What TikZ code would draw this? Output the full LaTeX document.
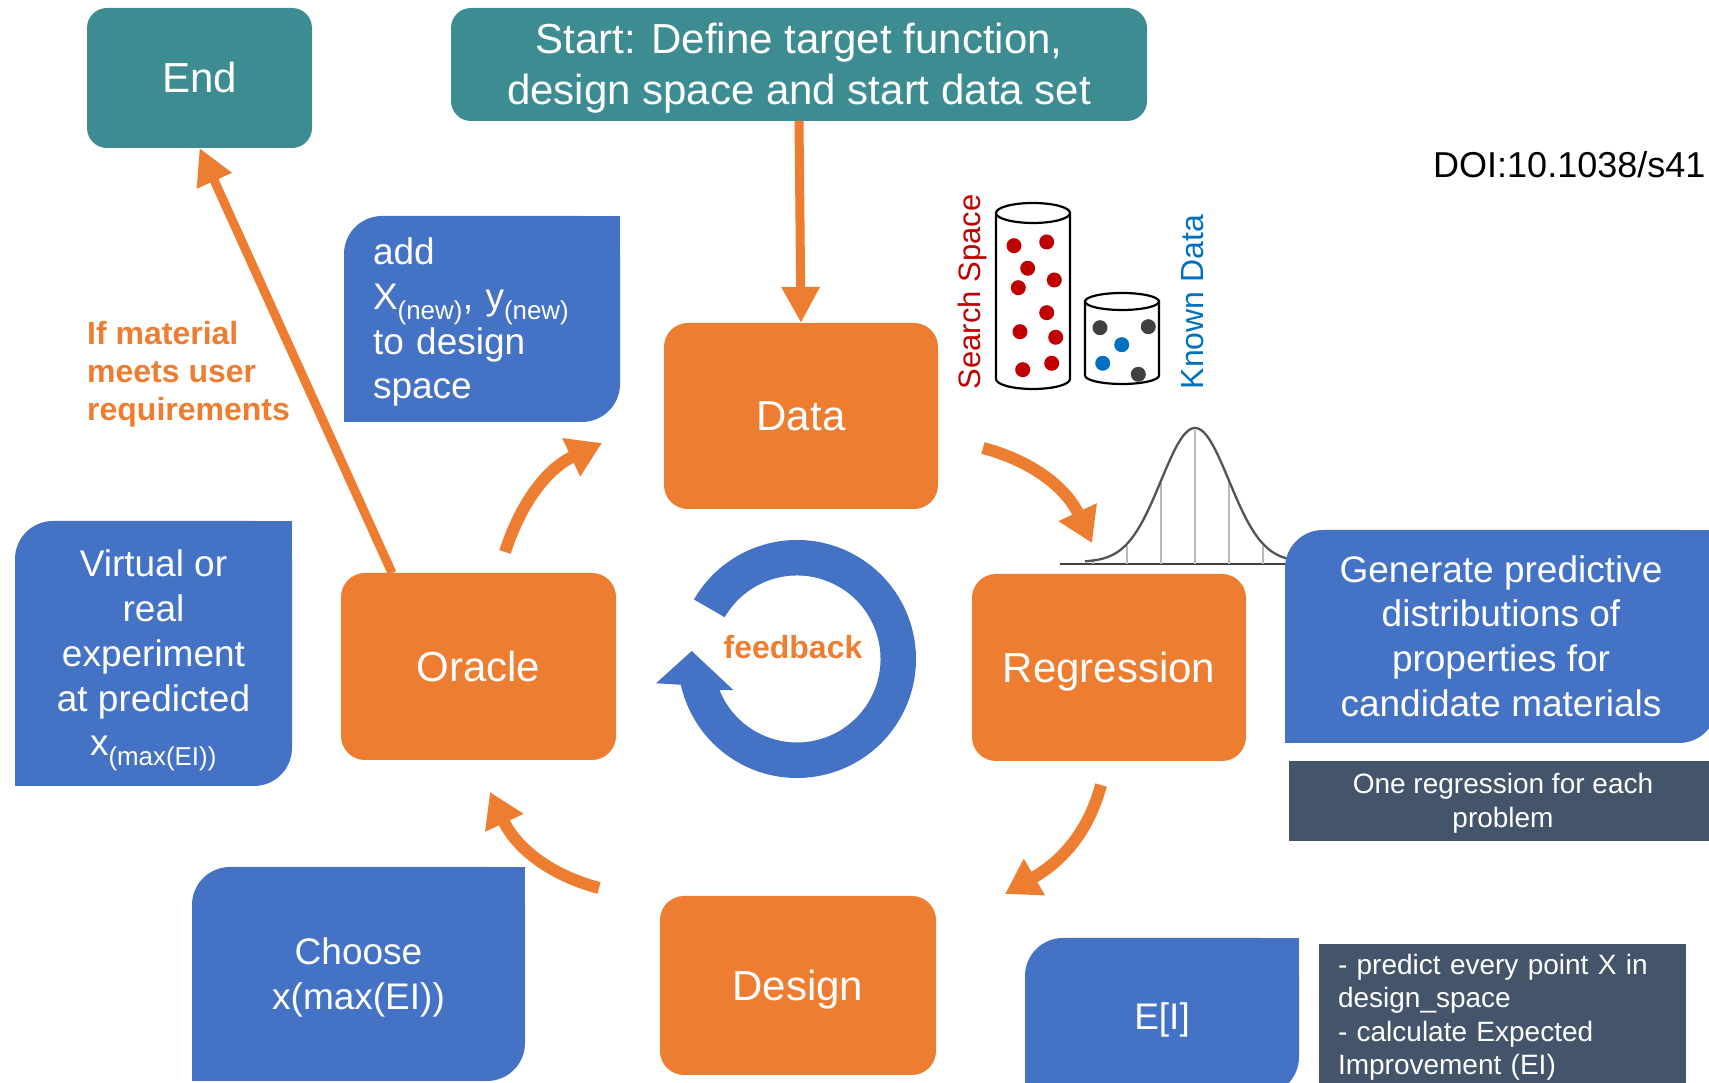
\documentclass[tikz,border=0pt]{standalone}
\usepackage{fontspec}
\setmainfont{Liberation Sans}
\usetikzlibrary{arrows.meta,backgrounds}

\definecolor{stageorange}{RGB}{237,125,49}
\definecolor{goalteal}{RGB}{60,140,145}
\definecolor{noteblue}{RGB}{68,114,196}
\definecolor{remarkslate}{RGB}{68,84,106}
\definecolor{searchred}{RGB}{192,0,0}
\definecolor{knownblue}{RGB}{0,112,192}
\definecolor{knowngray}{RGB}{64,64,64}

% full line height for the first and last line of a block
\newcommand{\linestrut}{\rule[-0.212em]{0pt}{1.117em}}

% blue note shape: rounded top left and bottom right, square elsewhere
\newcommand{\notefill}[1]{%
  \fill[noteblue, rounded corners=38pt] (#1.south west) rectangle (#1.north east);
  \fill[noteblue] (#1.north) rectangle (#1.east);
  \fill[noteblue] (#1.west) rectangle (#1.south);}

\begin{document}
\begin{tikzpicture}[x=1pt, y=1pt, >={Triangle[width=40pt,length=34pt]},
    stage/.style={fill=stageorange, text=white, rounded corners=24pt, align=center,
      inner sep=0pt, outer sep=0pt, font=\fontsize{42pt}{51pt}\selectfont},
    goal/.style={stage, fill=goalteal, rounded corners=20pt},
    single/.style={text height=38pt, text depth=8.9pt},
    note/.style={text=white, align=center, inner sep=0pt, outer sep=0pt,
      font=\fontsize{37pt}{44.7pt}\selectfont},
    remark/.style={fill=remarkslate, text=white, outer sep=0pt,
      font=\fontsize{28pt}{33.5pt}\selectfont},
    flow/.style={->, draw=stageorange, line width=12pt},
    lead/.style={-{Triangle[width=36pt,length=36pt]}, draw=stageorange, line width=9pt}]
  \useasboundingbox (0,0) rectangle (1709,1083);

  % Start and end
  \node[goal, single, minimum width=225pt, minimum height=140pt] (end) at (199.5,1005) {End};
  \node[goal, minimum width=696pt, minimum height=113pt] (start) at (799,1018.5)
    {\linestrut Start: Define target function,\\design space and start data set\linestrut};

  % Loop stages
  \node[stage, single, minimum width=274pt, minimum height=186pt] (data) at (801,667) {Data};
  \node[stage, single, minimum width=274pt, minimum height=187pt] (regression) at (1109,415.5) {Regression};
  \node[stage, single, minimum width=276pt, minimum height=179pt] (design) at (798,97.5) {Design};
  \node[stage, single, minimum width=275pt, minimum height=187pt] (oracle) at (478.5,416.5) {Oracle};

  % Notes
  \node[note, align=left, text width=218pt, minimum width=276pt, minimum height=206pt] (add) at (482,764)
    {\linestrut add\\X\textsubscript{(new)}, y\textsubscript{(new)}\\to design\\space\linestrut};
  \node[note, minimum width=277pt, minimum height=265pt] (virtual) at (153.5,429.5)
    {\linestrut Virtual or\\real\\experiment\\at predicted\\x\smash{\textsubscript{(max(EI))}}\linestrut};
  \node[note, minimum width=432pt, minimum height=213pt] (generate) at (1501,446.5)
    {\linestrut Generate predictive\\distributions of\\properties for\\candidate materials\linestrut};
  \node[note, minimum width=333pt, minimum height=214pt] (choose) at (358.5,109)
    {\linestrut Choose\\x(max(EI))\linestrut};
  \node[note, text height=33.5pt, text depth=7.8pt, minimum width=274pt, minimum height=157pt] (ei) at (1162,66.5) {E[I]};

  \node[remark, align=center, inner sep=0pt, minimum width=428pt, minimum height=80pt] (onereg) at (1503,282)
    {\linestrut One regression for each\\problem\linestrut};
  \node[remark, anchor=north west, align=left, text width=329pt, inner xsep=19pt, inner ysep=10pt] (predict) at (1319,139)
    {- predict every point X in\\design\_space\\- calculate Expected\\Improvement (EI)};

  % Labels
  \node[anchor=west, align=left, inner sep=0pt, text=stageorange,
    font=\fontsize{32pt}{38pt}\selectfont\bfseries] (cond) at (87,709) {If material\\meets user\\requirements};
  \node[inner sep=0pt, text=stageorange, font=\fontsize{32pt}{38pt}\selectfont\bfseries] (feedback) at (793,436) {feedback};
  \node[anchor=west, inner sep=0pt, font=\fontsize{36pt}{36pt}\selectfont] (doi) at (1433,918) {DOI:10.1038/s41};
  \node[rotate=90, inner sep=0pt, text=searchred, font=\fontsize{31pt}{31pt}\selectfont] (search) at (972,791) {Search Space};
  \node[rotate=90, inner sep=0pt, text=knownblue, font=\fontsize{32pt}{32pt}\selectfont] (known) at (1193,781) {Known Data};

  \begin{scope}[on background layer]
    % Predictive distribution
    \draw[knowngray, line width=2pt] (1060,519) -- (1292,519);
    \foreach \k in {-3,-2,-1,0,1,2}
      \draw[gray!55, line width=1.3pt] ({1195+34*\k},519) -- ({1195+34*\k},{519+max(134*exp(-0.5*(\k)*(\k)),5)});
    \draw[knowngray!90, line width=2.3pt, domain=1085:1292, samples=90, variable=\x]
      plot ({\x},{521+134*exp(-0.5*((\x-1195)/34)^2)});
    % Note boxes
    \foreach \n in {add,virtual,generate,choose,ei} {\notefill{\n}}
  \end{scope}

  % Search space and known data
  \draw[line width=2.2pt, fill=white] (996,870) -- (996,704) arc[start angle=180, end angle=360, x radius=37, y radius=10] -- (1070,870);
  \draw[line width=2.2pt, fill=white] (1033,870) ellipse[x radius=37, y radius=10];
  \draw[line width=2.2pt, fill=white] (1085,781.5) -- (1085,707.5) arc[start angle=180, end angle=360, x radius=37, y radius=8.5] -- (1159,781.5);
  \draw[line width=2.2pt, fill=white] (1122,781.5) ellipse[x radius=37, y radius=8.5];
  \foreach \x/\y in {1014/837.3, 1046.7/841, 1027.7/814.7, 1018.3/795.3, 1054.3/803,
      1046.7/770.3, 1020/751.3, 1055.7/745.7, 1022.7/713.3, 1051.7/719.7}
    \fill[searchred] (\x,\y) circle[radius=7.5];
  \foreach \x/\y in {1100/755.3, 1148.3/756.3, 1138.3/708.7}
    \fill[knowngray] (\x,\y) circle[radius=7.5];
  \foreach \x/\y in {1121.7/738.3, 1102.7/719.7}
    \fill[knownblue] (\x,\y) circle[radius=7.5];

  % Feedback ring
  \begin{scope}[shift={(797,424)}]
    \fill[noteblue] (150:119) arc[start angle=150, end angle=-167.5, radius=119]
      -- (-141,-24.3) -- (-105.3,8) -- (-63.7,-31)
      -- (-158.1:83.5) arc[start angle=-158.1, end angle=150, radius=83.5] -- cycle;
  \end{scope}

  % Arrows
  \draw[lead] (start.south) -- (data.north);
  \draw[lead] ([xshift=51pt]oracle.north west) -- (end.south);
  \draw[flow] ([xshift=45pt,yshift=-32pt]data.east) to[out=-15,in=115] ([xshift=-17pt,yshift=31pt]regression.north);
  \draw[flow] ([xshift=-8pt,yshift=-24pt]regression.south) to[out=-105,in=30] ([xshift=69pt,yshift=2pt]design.north east);
  \draw[flow] ([xshift=-61pt,yshift=8pt]design.north west) to[out=165,in=-65] ([xshift=11.5pt,yshift=-32pt]oracle.south);
  \draw[flow] ([xshift=26.5pt,yshift=21pt]oracle.north) to[out=72,in=-155] ([xshift=-18pt,yshift=-21pt]add.south east);
\end{tikzpicture}
\end{document}
